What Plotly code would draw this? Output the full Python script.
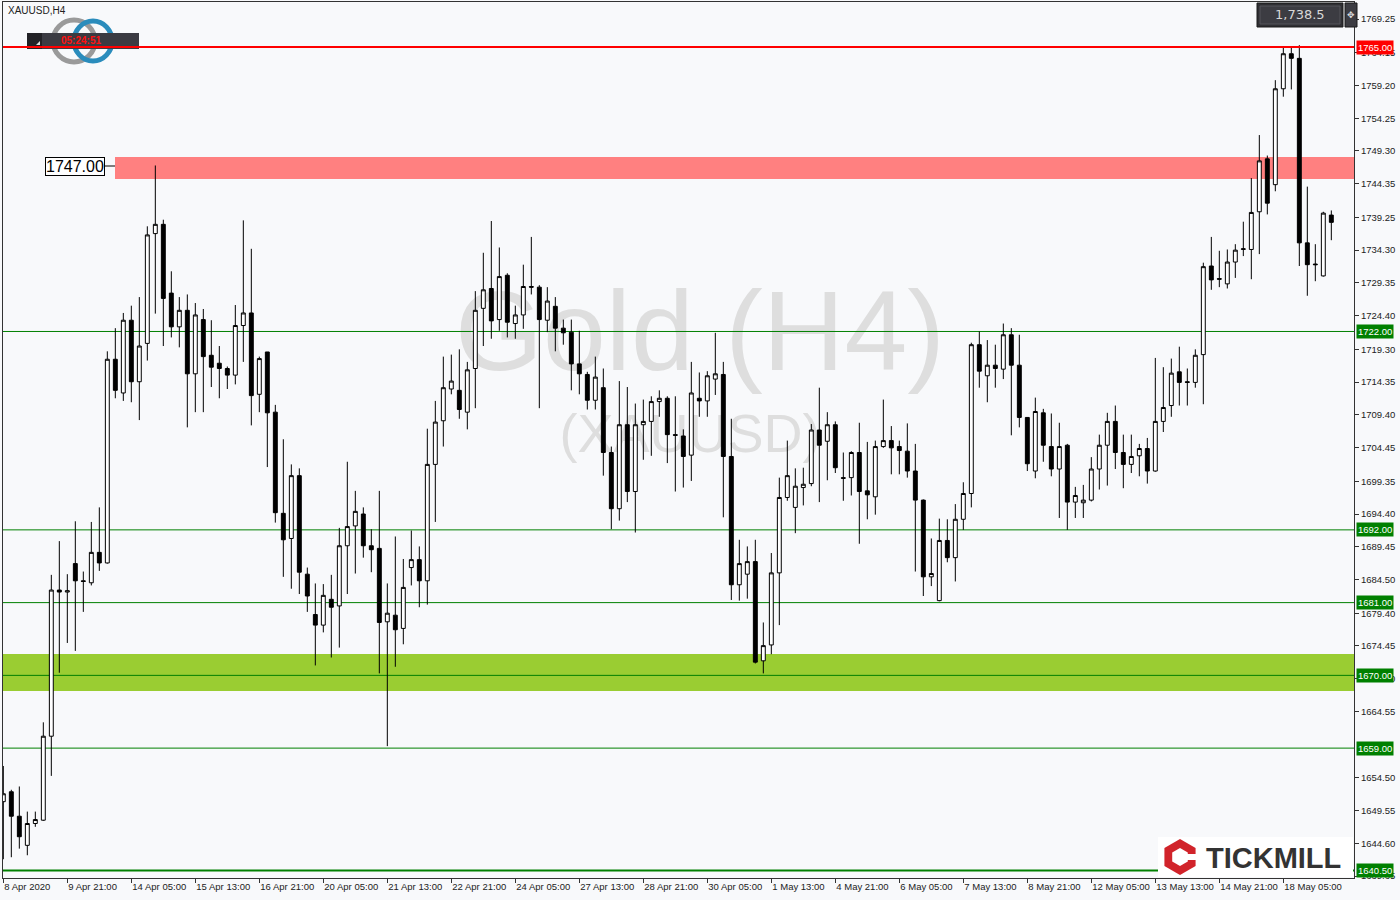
import plotly.graph_objects as go

# ---------------- data ----------------
opens = [1650.9, 1652.4, 1648.7, 1644.3, 1647.6, 1648.1, 1660.8, 1682.9, 1682.6, 1686.9,
         1684.3, 1684.0, 1688.6, 1687.0, 1717.8, 1712.7, 1723.7, 1714.4, 1720.2, 1736.8,
         1738.2, 1727.8, 1722.7, 1725.2, 1715.6, 1723.8, 1718.4, 1717.2, 1716.4, 1715.4,
         1722.9, 1724.8, 1712.5, 1718.9, 1709.8, 1694.5, 1690.7, 1700.2, 1685.3, 1679.2,
         1677.6, 1681.5, 1680.5, 1689.6, 1692.6, 1694.4, 1689.6, 1689.2, 1678.1, 1679.1,
         1677.1, 1686.3, 1687.5, 1684.3, 1701.9, 1708.5, 1713.3, 1713.1, 1709.8, 1716.4,
         1725.5, 1728.5, 1723.8, 1730.5, 1723.2, 1724.5, 1728.8, 1728.7, 1723.7, 1725.8,
         1722.5, 1721.9, 1717.1, 1715.5, 1711.6, 1713.5, 1703.7, 1695.2, 1707.9, 1697.8,
         1707.9, 1708.4, 1711.4, 1711.9, 1706.4, 1706.2, 1703.3, 1711.9, 1711.5, 1714.8,
         1715.5, 1703.1, 1683.7, 1685.3, 1687.2, 1672.2, 1674.6, 1685.5, 1696.9, 1695.4,
         1698.4, 1699.0, 1707.1, 1705.4, 1707.9, 1699.9, 1699.9, 1703.7, 1697.9, 1697.0,
         1704.6, 1705.5, 1704.6, 1703.9, 1700.9, 1696.5, 1684.9, 1681.3, 1690.4, 1687.8,
         1693.6, 1697.5, 1720.0, 1715.3, 1716.9, 1716.3, 1721.5, 1716.9, 1709.0, 1700.9,
         1709.7, 1704.6, 1701.2, 1704.8, 1696.2, 1696.1, 1696.5, 1701.2, 1704.8, 1708.4,
         1703.7, 1701.9, 1703.2, 1704.3, 1700.9, 1708.4, 1710.8, 1715.9, 1714.4, 1714.3,
         1718.5, 1731.9, 1730.0, 1729.2, 1732.5, 1734.4, 1734.4, 1740.1, 1748.1, 1744.2,
         1758.7, 1764.0, 1763.3, 1735.4, 1732.2, 1730.4, 1739.6]
highs = [1656.3, 1652.7, 1653.2, 1649.4, 1649.4, 1662.9, 1685.2, 1690.3, 1685.3, 1693.3,
         1685.7, 1693.2, 1695.4, 1719.0, 1722.5, 1724.8, 1725.9, 1727.2, 1737.9, 1747.1,
         1738.9, 1731.1, 1727.2, 1727.6, 1726.3, 1725.4, 1723.7, 1719.8, 1716.7, 1726.0,
         1738.8, 1734.5, 1718.2, 1718.9, 1710.9, 1705.7, 1701.9, 1701.3, 1686.3, 1683.9,
         1683.8, 1685.2, 1692.3, 1702.3, 1697.9, 1695.4, 1692.1, 1697.9, 1683.9, 1691.0,
         1687.6, 1691.9, 1689.5, 1707.3, 1711.5, 1718.2, 1718.5, 1719.3, 1717.4, 1728.1,
         1733.9, 1738.7, 1734.7, 1730.8, 1725.9, 1732.1, 1736.3, 1729.0, 1728.7, 1727.2,
         1723.8, 1723.8, 1722.1, 1715.9, 1718.2, 1716.4, 1704.6, 1714.5, 1713.6, 1711.1,
         1711.7, 1712.2, 1713.1, 1712.2, 1712.2, 1707.2, 1717.4, 1715.8, 1716.0, 1721.8,
         1717.4, 1708.8, 1690.5, 1689.5, 1690.5, 1678.0, 1688.5, 1699.9, 1705.5, 1701.3,
         1701.4, 1708.0, 1713.5, 1709.8, 1708.4, 1703.7, 1703.9, 1708.2, 1705.3, 1705.5,
         1711.7, 1707.7, 1705.5, 1708.1, 1705.0, 1696.6, 1690.7, 1693.7, 1693.6, 1695.9,
         1699.2, 1720.3, 1722.0, 1720.7, 1720.0, 1723.2, 1722.5, 1721.5, 1709.0, 1712.0,
         1710.3, 1709.6, 1708.2, 1705.0, 1698.5, 1698.8, 1703.0, 1706.4, 1709.7, 1710.8,
         1706.4, 1706.4, 1705.0, 1705.9, 1718.0, 1716.6, 1717.9, 1719.7, 1716.4, 1719.3,
         1732.4, 1736.3, 1734.2, 1734.4, 1735.2, 1738.6, 1745.2, 1751.7, 1748.6, 1760.0,
         1764.9, 1764.9, 1765.3, 1743.9, 1735.2, 1740.1, 1740.3]
lows = [1642.2, 1642.5, 1643.8, 1642.8, 1647.1, 1648.0, 1654.8, 1670.4, 1674.9, 1673.7,
        1679.6, 1683.6, 1685.8, 1686.9, 1711.9, 1711.5, 1711.3, 1708.6, 1717.6, 1724.7,
        1719.8, 1721.1, 1719.6, 1707.5, 1709.8, 1709.8, 1713.6, 1711.9, 1713.3, 1714.0,
        1717.4, 1707.8, 1709.8, 1701.5, 1693.1, 1684.9, 1683.1, 1682.3, 1679.6, 1671.5,
        1676.5, 1672.7, 1674.2, 1682.3, 1685.4, 1687.8, 1685.6, 1670.3, 1659.3, 1671.3,
        1674.7, 1683.6, 1680.3, 1680.7, 1693.2, 1704.6, 1712.5, 1708.8, 1707.2, 1710.4,
        1719.8, 1720.9, 1722.1, 1721.1, 1720.9, 1722.4, 1727.6, 1710.4, 1721.9, 1719.0,
        1720.0, 1713.1, 1712.5, 1710.2, 1710.2, 1700.2, 1692.1, 1693.4, 1696.2, 1691.6,
        1702.6, 1703.2, 1709.1, 1702.1, 1697.8, 1698.4, 1699.4, 1709.1, 1709.1, 1712.4,
        1693.9, 1681.4, 1681.3, 1681.6, 1671.8, 1670.3, 1673.2, 1677.6, 1696.4, 1691.5,
        1695.7, 1698.6, 1696.2, 1699.5, 1700.6, 1696.4, 1697.2, 1689.9, 1693.6, 1694.3,
        1704.4, 1700.4, 1700.4, 1699.9, 1685.7, 1682.0, 1683.5, 1681.2, 1687.1, 1684.2,
        1692.0, 1695.4, 1713.5, 1711.3, 1713.5, 1714.8, 1706.3, 1707.5, 1700.9, 1699.8,
        1702.3, 1700.1, 1693.8, 1692.0, 1693.8, 1693.8, 1696.3, 1698.1, 1698.7, 1701.2,
        1698.3, 1700.6, 1700.1, 1699.0, 1700.8, 1706.8, 1709.1, 1710.8, 1710.8, 1713.5,
        1711.0, 1728.3, 1728.7, 1728.5, 1730.1, 1733.4, 1729.9, 1733.7, 1739.7, 1743.2,
        1757.5, 1758.6, 1731.9, 1727.4, 1729.6, 1730.3, 1735.8]
closes = [1652.1, 1648.7, 1645.6, 1647.6, 1648.2, 1660.8, 1682.9, 1682.6, 1682.8, 1684.3,
          1684.2, 1688.6, 1687.0, 1717.8, 1713.1, 1723.7, 1714.4, 1719.8, 1736.6, 1738.2,
          1727.0, 1722.7, 1725.2, 1715.6, 1724.5, 1718.2, 1716.6, 1716.4, 1715.4, 1722.9,
          1724.8, 1712.3, 1717.9, 1709.7, 1694.6, 1690.5, 1700.2, 1685.6, 1682.0, 1677.6,
          1682.1, 1680.3, 1689.6, 1692.5, 1694.8, 1689.6, 1689.0, 1678.0, 1679.4, 1676.9,
          1683.3, 1687.5, 1684.3, 1701.9, 1708.3, 1713.5, 1714.5, 1710.2, 1716.2, 1725.2,
          1728.3, 1723.6, 1730.3, 1723.4, 1724.5, 1728.8, 1728.7, 1723.8, 1726.6, 1722.5,
          1721.8, 1717.1, 1715.6, 1711.6, 1715.1, 1703.7, 1695.2, 1707.9, 1697.8, 1707.9,
          1708.4, 1711.4, 1711.9, 1706.4, 1706.3, 1703.1, 1712.7, 1711.5, 1715.3, 1715.6,
          1703.1, 1683.7, 1686.9, 1687.2, 1672.0, 1674.5, 1685.5, 1696.9, 1700.2, 1698.6,
          1698.9, 1707.1, 1704.8, 1707.9, 1701.4, 1699.8, 1703.7, 1697.8, 1697.3, 1704.6,
          1705.5, 1704.4, 1704.0, 1700.9, 1696.5, 1684.9, 1685.4, 1690.4, 1687.8, 1693.6,
          1697.5, 1720.0, 1716.0, 1716.9, 1716.4, 1721.5, 1716.9, 1709.0, 1702.0, 1709.9,
          1704.8, 1701.2, 1704.6, 1696.2, 1697.2, 1696.5, 1701.2, 1704.8, 1708.4, 1703.7,
          1701.9, 1703.1, 1704.3, 1700.9, 1708.4, 1710.5, 1715.7, 1714.3, 1714.3, 1718.4,
          1731.8, 1729.8, 1729.9, 1732.5, 1734.3, 1734.5, 1740.0, 1747.8, 1741.4, 1758.7,
          1764.0, 1763.3, 1735.4, 1732.1, 1732.1, 1739.9, 1738.5]

time_labels = ["8 Apr 2020", "9 Apr 21:00", "14 Apr 05:00", "15 Apr 13:00", "16 Apr 21:00",
               "20 Apr 05:00", "21 Apr 13:00", "22 Apr 21:00", "24 Apr 05:00", "27 Apr 13:00",
               "28 Apr 21:00", "30 Apr 05:00", "1 May 13:00", "4 May 21:00", "6 May 05:00",
               "7 May 13:00", "8 May 21:00", "12 May 05:00", "13 May 13:00", "14 May 21:00",
               "18 May 05:00"]
price_ticks = [1769.25, 1764.15, 1759.20, 1754.25, 1749.30, 1744.35, 1739.25, 1734.30,
               1729.35, 1724.40, 1719.30, 1714.35, 1709.40, 1704.45, 1699.35, 1694.40,
               1689.45, 1684.50, 1679.40, 1674.45, 1669.50, 1664.55, 1654.50,
               1649.55, 1644.60, 1639.65]
support_levels = [1722.0, 1692.0, 1681.0, 1670.0, 1659.0, 1640.5]
resistance_level = 1765.0
resistance_zone = [1745.05, 1748.4]
support_zone = [1667.63, 1673.23]
zone_label = "1747.00"
last_price = "1,738.5"

# ---------------- layout helpers ----------------
W, H = 1400, 900
L, R, T, B = 3, 1354, 2, 878
BG = "#f8f9fb"
FONT = "Liberation Sans"


def px(x):
    return (x - L) / (R - L)


def py(y):
    return (B - y) / (B - T)


n = len(opens)
xs = list(range(n))

fig = go.Figure()
fig.add_trace(go.Candlestick(
    x=xs, open=opens, high=highs, low=lows, close=closes,
    increasing=dict(line=dict(color="black", width=1), fillcolor="white"),
    decreasing=dict(line=dict(color="black", width=1), fillcolor="black"),
    whiskerwidth=0, showlegend=False, hoverinfo="skip"))

shapes = []
# watermark
shapes.append(dict(type="rect", xref="paper", yref="paper", x0=px(350), x1=px(1050),
                   y0=py(390), y1=py(250), line=dict(width=0), fillcolor="rgba(0,0,0,0)",
                   layer="below",
                   label=dict(text="Gold (H4)", textposition="middle center",
                              font=dict(size=113, color="#dedede", family=FONT))))
shapes.append(dict(type="rect", xref="paper", yref="paper", x0=px(450), x1=px(930),
                   y0=py(465), y1=py(390), line=dict(width=0), fillcolor="rgba(0,0,0,0)",
                   layer="below",
                   label=dict(text="(XAUUSD)", textposition="middle center",
                              font=dict(size=54, color="#dedede", family=FONT))))
# zones
shapes.append(dict(type="rect", xref="paper", yref="y", x0=px(115), x1=1,
                   y0=resistance_zone[0], y1=resistance_zone[1],
                   fillcolor="#ff8080", line=dict(width=0), layer="below"))
shapes.append(dict(type="rect", xref="paper", yref="y", x0=0, x1=1,
                   y0=support_zone[0], y1=support_zone[1],
                   fillcolor="#9acd32", line=dict(width=0), layer="below"))
# support lines
for lv in support_levels:
    shapes.append(dict(type="line", xref="paper", yref="y", x0=0, x1=1, y0=lv, y1=lv,
                       line=dict(color="#008000", width=2 if lv == 1640.5 else 1),
                       layer="below"))
# connector for 1747.00 label
shapes.append(dict(type="line", xref="paper", yref="paper", x0=px(105), x1=px(115),
                   y0=py(166), y1=py(166), line=dict(color="black", width=1)))
# logo rings
shapes.append(dict(type="circle", xref="paper", yref="paper", x0=px(53), x1=px(95),
                   y0=py(62), y1=py(20), line=dict(color="#9a9a9a", width=5)))
shapes.append(dict(type="circle", xref="paper", yref="paper", x0=px(74), x1=px(112),
                   y0=py(61), y1=py(21), line=dict(color="#2a8cbc", width=5)))
# timer box
shapes.append(dict(type="rect", xref="paper", yref="paper", x0=px(27), x1=px(139),
                   y0=py(49), y1=py(33), fillcolor="#3b3b42", line=dict(width=0)))
shapes.append(dict(type="rect", xref="paper", yref="paper", x0=px(27), x1=px(42),
                   y0=py(49), y1=py(33), fillcolor="#222226", line=dict(width=0)))
shapes.append(dict(type="path", xref="paper", yref="paper",
                   path=f"M {px(36)},{py(45)} L {px(40)},{py(45)} L {px(40)},{py(41)} Z",
                   fillcolor="#dddddd", line=dict(width=0)))
# resistance line
shapes.append(dict(type="line", xref="paper", yref="y", x0=0, x1=1,
                   y0=resistance_level, y1=resistance_level,
                   line=dict(color="#ff0000", width=2)))
# last price box (top right)
shapes.append(dict(type="rect", xref="paper", yref="paper", x0=px(1257), x1=px(1343),
                   y0=py(27), y1=py(3), fillcolor="#2f2f33", line=dict(color="#1a1a1a", width=1)))
shapes.append(dict(type="rect", xref="paper", yref="paper", x0=px(1260), x1=px(1340),
                   y0=py(24), y1=py(6), fillcolor="#3c3c42", line=dict(color="#55555b", width=1)))
shapes.append(dict(type="rect", xref="paper", yref="paper", x0=px(1345), x1=px(1357),
                   y0=py(27), y1=py(3), fillcolor="#3c3c42", line=dict(color="#1a1a1a", width=1)))
# TICKMILL box
shapes.append(dict(type="rect", xref="paper", yref="paper", x0=px(1158), x1=px(1353),
                   y0=py(877), y1=py(837), fillcolor="white", line=dict(width=0)))
cx, cy, rr = 1180, 857, 18
hexo = [(cx, cy - rr), (cx + rr * 0.866, cy - rr / 2), (cx + rr * 0.866, cy + rr / 2),
        (cx, cy + rr), (cx - rr * 0.866, cy + rr / 2), (cx - rr * 0.866, cy - rr / 2)]
ri = 9
hexi = [(cx, cy - ri), (cx + ri * 0.866, cy - ri / 2), (cx + ri * 0.866, cy + ri / 2),
        (cx, cy + ri), (cx - ri * 0.866, cy + ri / 2), (cx - ri * 0.866, cy - ri / 2)]


def poly(pts):
    return "M " + " L ".join(f"{px(a)},{py(b)}" for a, b in pts) + " Z"


shapes.append(dict(type="path", xref="paper", yref="paper", path=poly(hexo),
                   fillcolor="#d1232a", line=dict(width=0)))
shapes.append(dict(type="path", xref="paper", yref="paper", path=poly(hexi),
                   fillcolor="white", line=dict(width=0)))
shapes.append(dict(type="rect", xref="paper", yref="paper", x0=px(cx), x1=px(cx + rr),
                   y0=py(cy + 3), y1=py(cy - 3), fillcolor="white", line=dict(width=0)))

annotations = []
annotations.append(dict(text="XAUUSD,H4", x=px(6), y=py(10), xref="paper", yref="paper",
                        xanchor="left", yanchor="middle", showarrow=False,
                        font=dict(size=10, color="#222222", family=FONT)))
annotations.append(dict(text="<b>05:24:51</b>", x=px(81), y=py(41), xref="paper", yref="paper",
                        xanchor="center", yanchor="middle", showarrow=False,
                        font=dict(size=10, color="#ff1010", family=FONT)))
annotations.append(dict(text=zone_label, x=px(75), y=py(166), xref="paper", yref="paper",
                        xanchor="center", yanchor="middle", showarrow=False,
                        bgcolor="white", bordercolor="black", borderwidth=1, borderpad=0,
                        font=dict(size=16, color="black", family=FONT)))
annotations.append(dict(text=last_price, x=px(1300), y=py(15), xref="paper", yref="paper",
                        xanchor="center", yanchor="middle", showarrow=False,
                        font=dict(size=13, color="#d8d8d8", family="DejaVu Sans")))
annotations.append(dict(text="✥", x=px(1351), y=py(15), xref="paper", yref="paper",
                        xanchor="center", yanchor="middle", showarrow=False,
                        font=dict(size=9, color="#dddddd", family="DejaVu Sans")))
annotations.append(dict(text="<b>TICKMILL</b>", x=px(1273), y=py(858), xref="paper", yref="paper",
                        xanchor="center", yanchor="middle", showarrow=False,
                        font=dict(size=29, color="#333333", family=FONT)))
for lv, col in [(resistance_level, "#ff0000")] + [(v, "#008000") for v in support_levels]:
    annotations.append(dict(text=f"{lv:.2f}", x=1, y=lv, xref="paper", yref="y",
                            xanchor="left", yanchor="middle", xshift=2, showarrow=False,
                            bgcolor=col, borderpad=1,
                            font=dict(size=9.5, color="white", family=FONT)))

fig.update_layout(
    width=W, height=H,
    margin=dict(l=L, r=W - R, t=T, b=H - B, autoexpand=False),
    paper_bgcolor=BG, plot_bgcolor=BG,
    showlegend=False,
    shapes=shapes, annotations=annotations,
    xaxis=dict(range=[-0.04, -0.04 + (R - L) / 8.0], rangeslider=dict(visible=False),
               tickmode="array", tickvals=[i * 8 for i in range(len(time_labels))],
               ticktext=time_labels, ticks="outside", ticklen=4, tickcolor="#333333",
               ticklabelposition="outside right", tickangle=0, automargin=False,
               showline=True, mirror=True, linecolor="#333333", linewidth=1,
               showgrid=False, zeroline=False,
               tickfont=dict(size=9.5, color="#222222", family=FONT)),
    yaxis=dict(range=[1639.36, 1771.82], side="right", automargin=False,
               tickmode="array", tickvals=price_ticks,
               ticktext=[f"{v:.2f}" for v in price_ticks],
               ticks="outside", ticklen=4, tickcolor="#333333",
               showline=True, mirror=True, linecolor="#333333", linewidth=1,
               showgrid=False, zeroline=False,
               tickfont=dict(size=9.5, color="#222222", family=FONT)),
)

fig.write_html("out.html", config={"displayModeBar": False},
               post_script="document.body.style.margin='0px';")
